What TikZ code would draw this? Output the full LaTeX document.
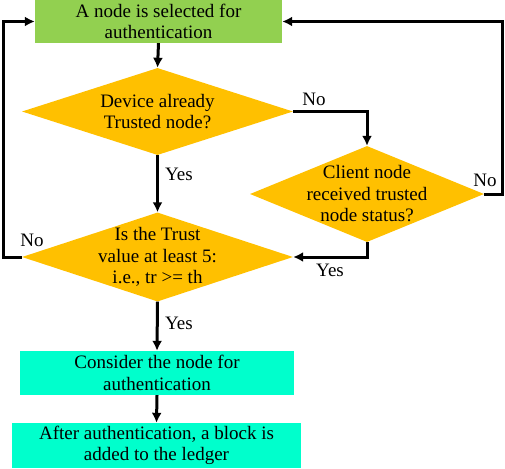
\documentclass[tikz,border=0pt]{standalone}
\usepackage{fontspec}
\setmainfont{Liberation Serif}
\usepackage{tikz}
\usetikzlibrary{shapes.geometric, arrows.meta}
\definecolor{boxgreen}{HTML}{92D050}
\definecolor{boxcyan}{HTML}{00FFCC}
\definecolor{askorange}{HTML}{FFC000}

\begin{document}
\begin{tikzpicture}[x=1pt, y=-1pt,
  every node/.style={font=\fontsize{19}{21.5}\selectfont, align=center, inner sep=0pt},
  stepbox/.style={rectangle, minimum height=44pt},
  ask/.style={diamond, fill=askorange, inner sep=0pt},
  flow/.style={line width=3pt, -{Latex[length=10pt, width=10pt]}}]
  \useasboundingbox (0,0) rectangle (505,468);
  \node [stepbox, fill=boxgreen, minimum width=247pt, minimum height=43pt] (sel) at (158.5, 21.5) {A node is selected for\\authentication};
  \node [ask, minimum width=271pt, minimum height=87pt, label={center:Device already\\Trusted node?}] (dev) at (157.5, 111.5) {};
  \node [ask, minimum width=234pt, minimum height=96pt, label={center:Client node\\received trusted\\node status?}] (cli) at (367, 194) {};
  \node [ask, minimum width=271pt, minimum height=89pt, label={center:Is the Trust\\value at least 5:\\i.e., tr >= th}] (trust) at (157.5, 257) {};
  \node [stepbox, fill=boxcyan, minimum width=274pt] (con) at (157, 373) {Consider the node for\\authentication};
  \node [stepbox, fill=boxcyan, minimum width=289pt, minimum height=45pt] (blk) at (156.5, 445.5) {After authentication, a block is\\added to the ledger};
  \coordinate (rc) at (502, 21.5);
  \coordinate (lc) at (3, 21.5);
  % labels on the connectors
  \node (no1) at (314, 99) {No};
  \node (yes1) at (179, 174) {Yes};
  \node (no2) at (485, 180) {No};
  \node (yes2) at (330, 270) {Yes};
  \node (no3) at (32, 240) {No};
  \node (yes3) at (179, 323) {Yes};
  \draw [flow] (sel.south) -- (dev.north);
  \draw [flow] (dev.east) -| (cli.north);
  \draw [flow] (dev.south) -- (trust.north);
  \draw [flow] (cli.east) -| (rc) -- (sel.east);
  \draw [flow] (cli.south) |- (trust.east);
  \draw [flow] (trust.west) -| (lc) -- (sel.west);
  \draw [flow] (trust.south) -- (con.north);
  \draw [flow] (con.south) -- (blk.north);
\end{tikzpicture}
\end{document}
